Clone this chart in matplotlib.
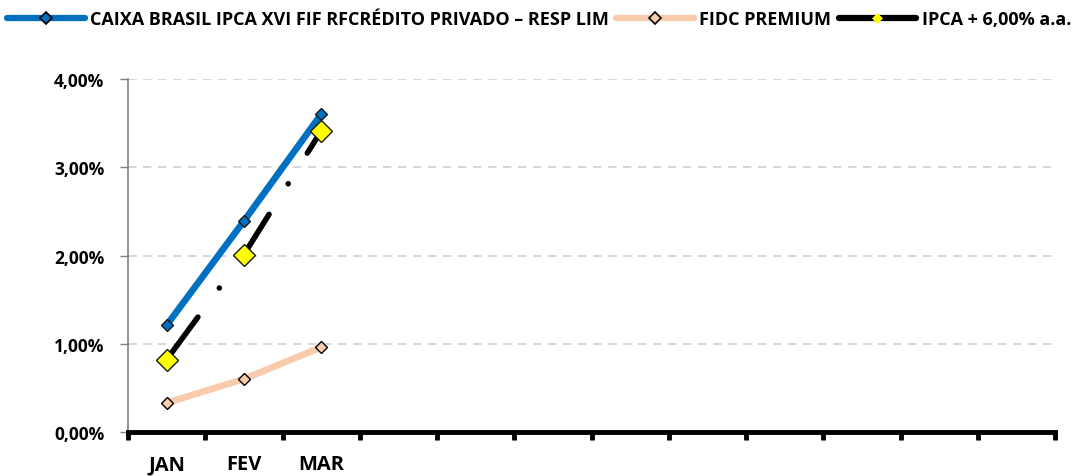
import numpy as np
import matplotlib
matplotlib.use("Agg")
from matplotlib import pyplot as plt
from matplotlib.lines import Line2D

plt.rcParams['font.family'] = ['Open Sans', 'DejaVu Sans']
plt.rcParams['font.weight'] = 'bold'

# data (percent)
months = ['JAN', 'FEV', 'MAR', '', '', '', '', '', '', '', '', '']
caixa = [1.21, 2.39, 3.60]
fidc = [0.33, 0.60, 0.96]
ipca = [0.82, 2.01, 3.41]
yticks = [0, 1, 2, 3, 4]
ytick_labels = ['0,00%', '1,00%', '2,00%', '3,00%', '4,00%']

names = ['CAIXA BRASIL IPCA XVI FIF RFCRÉDITO PRIVADO – RESP LIM', 'FIDC PREMIUM', 'IPCA + 6,00% a.a.']

blue = '#0070C0'
peach = '#F8CBAD'

fig = plt.figure(figsize=(10.78, 4.77), dpi=100)
ax = fig.add_axes([128/1078, 44/477, 927/1078, 353/477])

x = np.arange(len(caixa))

ax.plot(x, fidc, color=peach, lw=4.8, solid_capstyle='round', zorder=3,
		marker='D', ms=6, mfc=peach, mec='black', mew=1.0)

ax.plot(x, caixa, color=blue, lw=4.8, solid_capstyle='round', zorder=4,
		marker='D', ms=6.5, mfc=blue, mec='#1a1a1a', mew=1.0)

# black dash-dot line drawn under the yellow markers
ax.plot(x, ipca, color='black', lw=4.0, linestyle=(0, (9.5, 6.5, 0.01, 6.5)),
		dash_capstyle='round', zorder=5)
ax.plot(x, ipca, linestyle='none', marker='D', ms=11.5, mfc='#FFFF00',
		mec='#1a1a1a', mew=1.0, zorder=6)

ax.set_xlim(-0.5, len(months) - 0.5)
ax.set_ylim(0, 4)

# category ticks sit between months, labels at centres
ax.set_xticks(np.arange(len(months) + 1) - 0.5)
ax.set_xticklabels([])
ax.set_xticks(np.arange(len(months)), minor=True)
ax.set_xticklabels(months, minor=True, fontsize=14.5, fontweight='bold')
ax.tick_params(axis='x', which='major', direction='out', length=6, width=3.5, color='black')
ax.tick_params(axis='x', which='minor', length=0, pad=16)

ax.set_yticks(yticks)
ax.set_yticklabels(ytick_labels, fontsize=12.5, fontweight='bold')
ax.tick_params(axis='y', direction='out', length=6, width=1, color='#808080', pad=11)

ax.grid(axis='y', color='#d0d0d0', linestyle=(0, (5, 4)), lw=1.2)
ax.set_axisbelow(True)

for s in ['top', 'right']:
	ax.spines[s].set_visible(False)
ax.spines['left'].set_color('#808080')
ax.spines['left'].set_linewidth(1.2)
ax.spines['bottom'].set_color('black')
ax.spines['bottom'].set_linewidth(3.5)

# legend with smaller markers
handles = [
	Line2D([], [], color=blue, lw=4.5, solid_capstyle='round', marker='D', ms=6,
		   mfc=blue, mec='black', mew=1.2),
	Line2D([], [], color=peach, lw=4.5, solid_capstyle='round', marker='D', ms=6,
		   mfc=peach, mec='black', mew=1.2),
	Line2D([], [], color='black', lw=4.5, solid_capstyle='round', marker='D', ms=5,
		   mfc='#FFFF00', mec='#FFFF00', mew=0.5),
]
fig.legend(handles, names, loc='center', bbox_to_anchor=(0.5, 1 - 20/477), ncol=3,
		   frameon=False, handlelength=4.3, handletextpad=0.3,
		   columnspacing=0.4, prop={'weight': 'bold', 'size': 13})

fig.savefig('out.png', dpi=100)
